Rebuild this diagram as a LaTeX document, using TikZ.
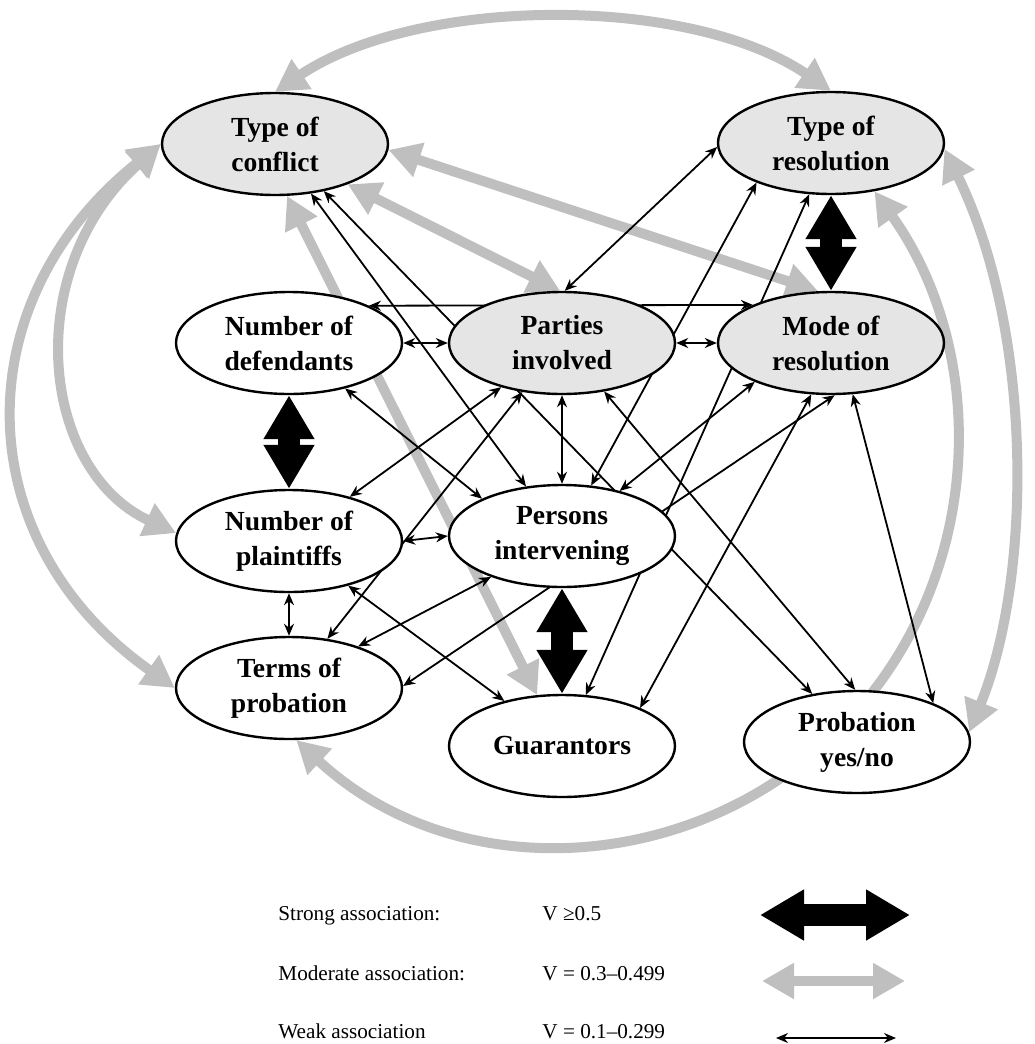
\documentclass[tikz,border=0pt]{standalone}
\usepackage{fontspec}
\setmainfont{Liberation Serif}
\usetikzlibrary{arrows.meta,shapes.geometric,backgrounds}

\begin{document}
\begin{tikzpicture}[x=0.5pt,y=-0.5pt]
    \definecolor{nodegray}{RGB}{229,229,229}
    \definecolor{modgray}{RGB}{191,191,191}

    \tikzstyle{varnode}=[ellipse,draw,line width=1.2pt,fill=white,minimum width=113pt,minimum height=51pt,inner sep=0pt,align=center,font=\bfseries\fontsize{13.8}{17.5}\selectfont]  % 变量节点:椭圆
    \tikzstyle{strong}=[line width=11pt,{Triangle[length=22pt,width=24pt]}-{Triangle[length=22pt,width=24pt]}]  % 强关联
    \tikzstyle{moderate}=[draw=modgray,line width=5pt,{Triangle[length=16pt,width=17pt]}-{Triangle[length=16pt,width=17pt]}]  % 中等关联
    \tikzstyle{weak}=[line width=0.9pt,{Stealth[length=6pt,width=5pt]}-{Stealth[length=6pt,width=5pt]}]  % 弱关联
    \tikzstyle{legtext}=[anchor=base west,inner sep=0pt,font=\fontsize{10.6}{13}\selectfont]

    \useasboundingbox (0,0) rectangle (1034,1044);

    % 定义节点
    \node[varnode,fill=nodegray](tc) at (275,144){Type of\\conflict};
    \node[varnode](nd) at (289,343){Number of\\defendants};
    \node[varnode,fill=nodegray,right of=nd,node distance=136.5pt](pi){Parties\\involved};
    \node[varnode,fill=nodegray,right of=pi,node distance=134.5pt](mr){Mode of\\resolution};
    \node[varnode,fill=nodegray,above of=mr,node distance=100pt](tr){Type of\\resolution};
    \node[varnode,below of=nd,node distance=99pt](np){Number of\\plaintiffs};
    \node[varnode,below of=np,node distance=73.5pt](tp){Terms of\\probation};
    \node[varnode,below of=pi,node distance=96.5pt](piv){Persons\\intervening};
    \node[varnode,below of=piv,node distance=105pt](gu){Guarantors};
    \node[varnode](py) at (857,742){Probation\\yes/no};

    % 开始画线
    \begin{pgfonlayer}{background}
    \draw[moderate](tc.north) .. controls (420,-5) and (690,-5) .. (tr.north);
    \draw[moderate](tc.-3)--(mr.104);
    \draw[moderate](tc.-29)--(pi.92);
    \draw[moderate](tc.-77)--(gu.116);
    \draw[moderate](tc.west) .. controls (20,270) and (40,470) .. (np.176);
    \draw[moderate](tc.west) .. controls (-35,300) and (-35,540) .. (tp.west);
    \draw[moderate](tp.-82) .. controls (462,894) and (719,875) .. (863,704) .. controls (985,559) and (986,348) .. (tr.-48);
    \draw[moderate](tr.-3) .. controls (1033,330) and (1033,575) .. (py.5);

    \draw[strong](nd.south)--(np.north);
    \draw[strong](tr.south)--(mr.north);
    \draw[strong](piv.south)--(gu.north);

    \draw[weak](nd.east)--(pi.west);
    \draw[weak](pi.east)--(mr.west);
    \draw[weak](np.east)--(piv.west);
    \draw[weak](np.south)--(tp.north);
    \draw[weak](pi.south)--(piv.north);
    \draw[weak](nd.25)--(mr.154);
    \draw[weak](pi.87)--(tr.182);
    \draw[weak](tc.-54)--(piv.126);
    \draw[weak](tc.-44)--(py.133);
    \draw[weak](tr.208)--(piv.60);
    \draw[weak](tr.-113)--(gu.65);
    \draw[weak](mr.-153)--(piv.38);
    \draw[weak](mr.-111)--(gu.26);
    \draw[weak](mr.-86)--(tp.1);
    \draw[weak](mr.-67)--(py.27);
    \draw[weak](pi.-144)--(np.36);
    \draw[weak](pi.-129)--(tp.52);
    \draw[weak](pi.-49)--(py.92);
    \draw[weak](nd.-39)--(piv.155);
    \draw[weak](tp.31)--(piv.-150);
    \draw[weak](np.-37)--(gu.142);
    \end{pgfonlayer}

    % 图例
    \node[legtext](lstrong) at (278,920){Strong association:};
    \node[legtext](lstrongv) at (542,920){V ≥0.5};
    \node[legtext](lmod) at (278,980){Moderate association:};
    \node[legtext](lmodv) at (542,980){V = 0.3–0.499};
    \node[legtext](lweak) at (278,1038){Weak association};
    \node[legtext](lweakv) at (542,1038){V = 0.1–0.299};
    \coordinate (sl) at (760,915);
    \coordinate (sr) at (910,915);
    \coordinate (ml) at (762,981);
    \coordinate (mrr) at (905,981);
    \coordinate (wl) at (776,1038);
    \coordinate (wr) at (896,1038);
    \draw[strong](sl)--(sr);
    \draw[moderate](ml)--(mrr);
    \draw[weak](wl)--(wr);
\end{tikzpicture}
\end{document}
